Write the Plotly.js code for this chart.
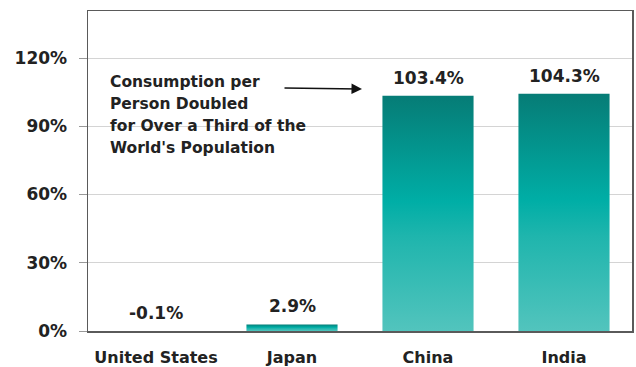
<!DOCTYPE html>
<html>
<head>
<meta charset="utf-8">
<script src="https://cdn.plot.ly/plotly-3.0.1.min.js"></script>
<style>html,body{margin:0;padding:0;background:#fff;}#chart{width:636px;height:367px;}</style>
</head>
<body>
<div id="chart"></div>
<script>
var categories = ["United States", "Japan", "China", "India"];
var values = [-0.1, 2.9, 103.4, 104.3];
var valueLabels = ["-0.1%", "2.9%", "103.4%", "104.3%"];
var yTickValues = [0, 30, 60, 90, 120];
var yTickLabels = ["0%", "30%", "60%", "90%", "120%"];
var noteLines = ["Consumption per", "Person Doubled", "for Over a Third of the", "World's Population"];

var FONT = "DejaVu Sans, Arial, sans-serif";
var TXT = "#222222";

var trace = {
  type: "bar",
  x: categories,
  y: values,
  marker: {color: "#12aaa2", line: {width: 0}},
  hoverinfo: "none"
};

var annotations = categories.map(function (c, i) {
  return {
    x: c, y: Math.max(values[i], 0), xref: "x", yref: "y",
    text: "<b>" + valueLabels[i] + "</b>", showarrow: false,
    yanchor: "bottom", yshift: 6,
    font: {family: FONT, size: 17, color: TXT}
  };
});
noteLines.forEach(function (line, i) {
  annotations.push({
    xref: "paper", yref: "paper", x: 20 / 544, y: (331 - 82) / 320,
    xanchor: "left", yanchor: "middle", align: "left", showarrow: false,
    yshift: -22 * i,
    text: "<b>" + line + "</b>",
    font: {family: FONT, size: 15.5, color: TXT}
  });
});
annotations.push({
  xref: "paper", yref: "paper",
  x: (362 - 88) / 544, y: (331 - 89) / 320,
  ax: (283 - 88) / 544, ay: (331 - 88) / 320,
  axref: "paper", ayref: "paper",
  showarrow: true, arrowhead: 2, arrowsize: 1.4, arrowwidth: 1.5,
  arrowcolor: "#111", text: ""
});

var layout = {
  width: 636, height: 367,
  margin: {l: 88, r: 4, t: 11, b: 36},
  paper_bgcolor: "#ffffff", plot_bgcolor: "#ffffff",
  showlegend: false,
  bargap: 0.33,
  xaxis: {
    type: "category",
    showgrid: false, zeroline: false,
    showline: true, linecolor: "#5a5a5a", linewidth: 1.5, mirror: true,
    ticks: "", ticklabelstandoff: 11,
    tickfont: {family: FONT, size: 16, color: TXT, weight: "bold"}
  },
  yaxis: {
    range: [0, 140.7],
    tickvals: yTickValues, ticktext: yTickLabels,
    showgrid: true, gridcolor: "#d4d4d4", gridwidth: 1,
    zeroline: false,
    showline: true, linecolor: "#5a5a5a", linewidth: 1.5, mirror: true,
    ticks: "outside", ticklen: 8, tickcolor: "#999", tickwidth: 1,
    ticklabelstandoff: 8,
    tickfont: {family: FONT, size: 17, color: TXT, weight: "bold"}
  },
  annotations: annotations
};

Plotly.newPlot("chart", [trace], layout, {displayModeBar: false, staticPlot: true}).then(function (gd) {
  var svg = gd.querySelector("svg.main-svg");
  var ns = "http://www.w3.org/2000/svg";
  var defs = svg.querySelector("defs") || svg.insertBefore(document.createElementNS(ns, "defs"), svg.firstChild);
  var g = document.createElementNS(ns, "linearGradient");
  g.setAttribute("id", "barGrad");
  g.setAttribute("x1", "0"); g.setAttribute("y1", "0");
  g.setAttribute("x2", "0"); g.setAttribute("y2", "1");
  [["0", "#067c76"], ["0.45", "#00aea6"], ["0.6", "#1fb5ad"], ["1", "#52c4bd"]].forEach(function (s) {
    var st = document.createElementNS(ns, "stop");
    st.setAttribute("offset", s[0]); st.setAttribute("stop-color", s[1]);
    g.appendChild(st);
  });
  defs.appendChild(g);
  gd.querySelectorAll(".bars .point path").forEach(function (p) {
    p.style.fill = "url(#barGrad)";
  });
});
</script>
</body>
</html>
